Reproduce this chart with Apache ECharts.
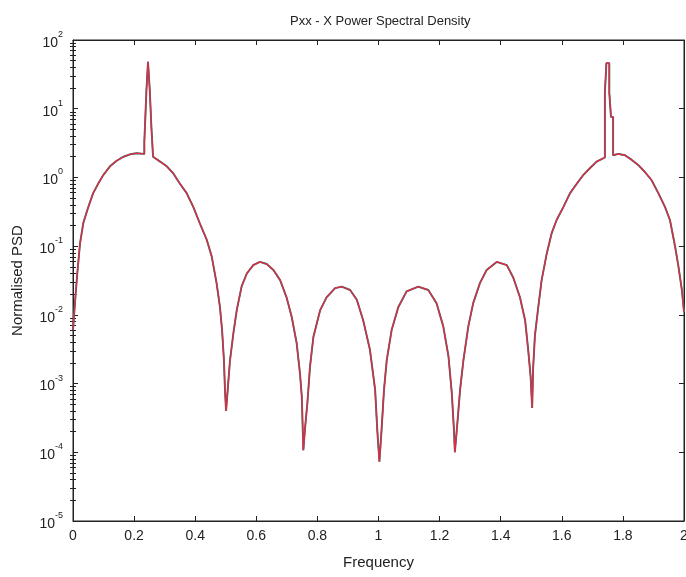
<!DOCTYPE html>
<html>
<head>
<meta charset="utf-8">
<script src="https://cdn.jsdelivr.net/npm/echarts@6/dist/echarts.min.js"></script>
<style>
html,body{margin:0;padding:0;background:#fff;}
#chart{width:686px;height:577px;}
</style>
</head>
<body>
<div id="chart"></div>
<script>
// ---- data (repeated frequencies = vertical steps of the staircase) ----
var freq = [
0.000,0.0065,0.014,0.023,0.034,0.050,0.066,0.083,0.099,0.121,0.143,0.165,0.187,0.208,0.2335,
0.2335,0.2375,0.2375,0.2405,0.2405,0.2455,0.2455,0.2515,0.2515,0.2565,0.2565,0.262,0.262,
0.285,0.307,0.328,0.350,0.372,0.394,0.416,0.438,
0.454,0.470,0.481,0.488,0.494,0.4975,0.501,0.508,0.514,0.525,0.536,0.552,0.569,0.590,0.612,
0.634,0.656,0.678,0.699,0.716,0.732,0.743,0.749,0.754,0.759,0.767,0.776,0.787,0.809,0.830,
0.858,0.880,0.907,0.929,0.950,0.972,0.989,0.996,1.003,1.010,1.018,1.027,1.043,1.065,1.092,
1.130,1.163,1.190,1.212,1.229,1.240,1.247,1.250,1.258,1.267,1.278,1.294,1.310,1.332,1.354,
1.387,1.420,1.441,1.463,1.480,1.490,1.498,1.503,1.506,1.512,1.523,1.534,1.551,1.567,1.583,
1.605,1.627,1.649,1.670,1.692,1.714,1.741,
1.741,1.746,1.746,1.7555,1.7555,1.761,1.761,1.768,1.768,
1.785,1.807,
1.829,1.850,1.872,1.894,1.916,1.938,1.954,1.971,1.982,1.993,2.000
];
var psd = [
6e-3,0.015,0.04,0.11,0.22,0.37,0.59,0.82,1.08,1.45,1.75,2.0,2.17,2.25,2.2,
3.3,3.3,9,9,19,19,48,48,18,18,5.5,5.5,2.0,
1.7,1.45,1.15,0.81,0.59,0.37,0.21,0.123,
0.071,0.029,0.013,6e-3,2.2e-3,8e-4,4e-4,1e-3,2.2e-3,5.4e-3,0.0117,0.026,0.04,0.053,0.059,
0.055,0.045,0.032,0.018,9.3e-3,3.9e-3,1.4e-3,6.4e-4,1.07e-4,2.1e-4,5.1e-4,1.8e-3,4.8e-3,0.0117,0.018,
0.0245,0.0257,0.023,0.0166,8.3e-3,3.1e-3,8.1e-4,2.1e-4,7.3e-5,2.1e-4,8.1e-4,2.2e-3,6e-3,0.013,0.022,
0.0257,0.023,0.0148,6.8e-3,2.5e-3,7.2e-4,2.1e-4,1.0e-4,2.6e-4,8.1e-4,2.2e-3,6.8e-3,0.0148,0.029,0.045,
0.059,0.053,0.035,0.018,8.3e-3,3.1e-3,1.25e-3,4.4e-4,1.6e-3,5e-3,0.013,0.032,0.079,0.155,0.24,
0.37,0.59,0.81,1.08,1.36,1.7,1.95,
17,17,46,46,17,17,7.6,7.6,2.1,
2.2,2.1,
1.8,1.52,1.2,0.91,0.59,0.37,0.24,0.098,0.05,0.023,0.011
];
var xTicks = [0,0.2,0.4,0.6,0.8,1,1.2,1.4,1.6,1.8,2];
var yExponents = [-5,-4,-3,-2,-1,0,1,2];
var minorMultipliers = [2,3,4,5,6,7,8,9];

var titleText = 'Pxx - X Power Spectral Density';
var xName = 'Frequency';
var yName = 'Normalised PSD';

// ---- build ----
var pts = freq.map(function(f,i){ return [f, psd[i]]; });
var minorPos = [];
for (var e = yExponents[0]; e < yExponents[yExponents.length-1]; e++) {
  minorMultipliers.forEach(function(m){ minorPos.push(e + Math.log10(m)); });
}
var FONT = 'Liberation Sans';
var INK = '#222';
var chart = echarts.init(document.getElementById('chart'), null, {renderer:'canvas'});
var option = {
  animation: false,
  backgroundColor: '#fff',
  title: {
    text: titleText, left: 285, top: 10,
    textStyle: {fontFamily: FONT, fontSize: 13, fontWeight: 'normal', color: INK}
  },
  grid: {left: 73, right: 2, top: 40, bottom: 56, containLabel: false, outerBoundsMode: 'none',
         show: true, borderColor: INK, borderWidth: 1, backgroundColor: '#fff'},
  xAxis: [{
    type: 'value', min: 0, max: 2, interval: 0.2, position: 'bottom',
    name: xName, nameLocation: 'middle', nameGap: 34,
    nameTextStyle: {fontFamily: FONT, fontSize: 15, color: INK},
    axisLine: {show: true, onZero: false, lineStyle: {color: INK}},
    axisTick: {show: true, inside: true, length: 5, lineStyle: {color: INK}},
    axisLabel: {fontFamily: FONT, fontSize: 14, color: INK, margin: 8, customValues: xTicks},
    splitLine: {show: false}
  },{
    type: 'value', min: 0, max: 2, interval: 0.2, position: 'top',
    axisLine: {show: true, onZero: false, lineStyle: {color: INK}},
    axisTick: {show: true, inside: true, length: 5, lineStyle: {color: INK}},
    axisLabel: {show: false}, splitLine: {show: false}
  }],
  yAxis: [{
    type: 'log', logBase: 10, min: 1e-5, max: 100, interval: 1, position: 'left',
    name: yName, nameLocation: 'middle', nameGap: 48, nameRotate: 90,
    nameTextStyle: {fontFamily: FONT, fontSize: 15, color: INK},
    axisLine: {show: true, onZero: false, lineStyle: {color: INK}},
    axisTick: {show: true, inside: true, length: 5, lineStyle: {color: INK}},
    axisLabel: {
      margin: 10, color: INK,
      formatter: function(v){ var ex = Math.round(Math.log10(v)); return '{b|10}{e|' + ex + '}'; },
      rich: {
        b: {fontFamily: FONT, fontSize: 14, color: INK, verticalAlign: 'bottom', lineHeight: 20},
        e: {fontFamily: FONT, fontSize: 9, color: INK, verticalAlign: 'top', lineHeight: 20}
      }
    },
    splitLine: {show: false}
  },{
    type: 'value', min: -5, max: 2, position: 'left',
    axisLine: {show: false}, axisLabel: {show: false}, splitLine: {show: false},
    axisTick: {show: true, inside: true, length: 3, customValues: minorPos, lineStyle: {color: INK}}
  },{
    type: 'value', min: -5, max: 2, interval: 1, position: 'right',
    axisLine: {show: true, onZero: false, lineStyle: {color: INK}}, axisLabel: {show: false}, splitLine: {show: false},
    axisTick: {show: true, inside: true, length: 5, lineStyle: {color: INK}}
  },{
    type: 'value', min: -5, max: 2, position: 'right', offset: 0,
    axisLine: {show: false}, axisLabel: {show: false}, splitLine: {show: false},
    axisTick: {show: true, inside: true, length: 3, customValues: minorPos, lineStyle: {color: INK}}
  }],
  series: [{
    type: 'line', name: 'est-g', xAxisIndex: 0, yAxisIndex: 0, data: pts,
    showSymbol: false, lineStyle: {color: '#3f6f55', width: 1.9}, silent: true, z: 2
  },{
    type: 'line', name: 'est-b', xAxisIndex: 0, yAxisIndex: 0, data: pts,
    showSymbol: false, lineStyle: {color: '#6a5fb0', width: 1.5, opacity: 0.5}, silent: true, z: 3
  },{
    type: 'line', name: 'est-r', xAxisIndex: 0, yAxisIndex: 0, data: pts,
    showSymbol: false, lineStyle: {color: '#e8283c', width: 1.2}, silent: true, z: 4
  }]
};
chart.setOption(option);
</script>
</body>
</html>
